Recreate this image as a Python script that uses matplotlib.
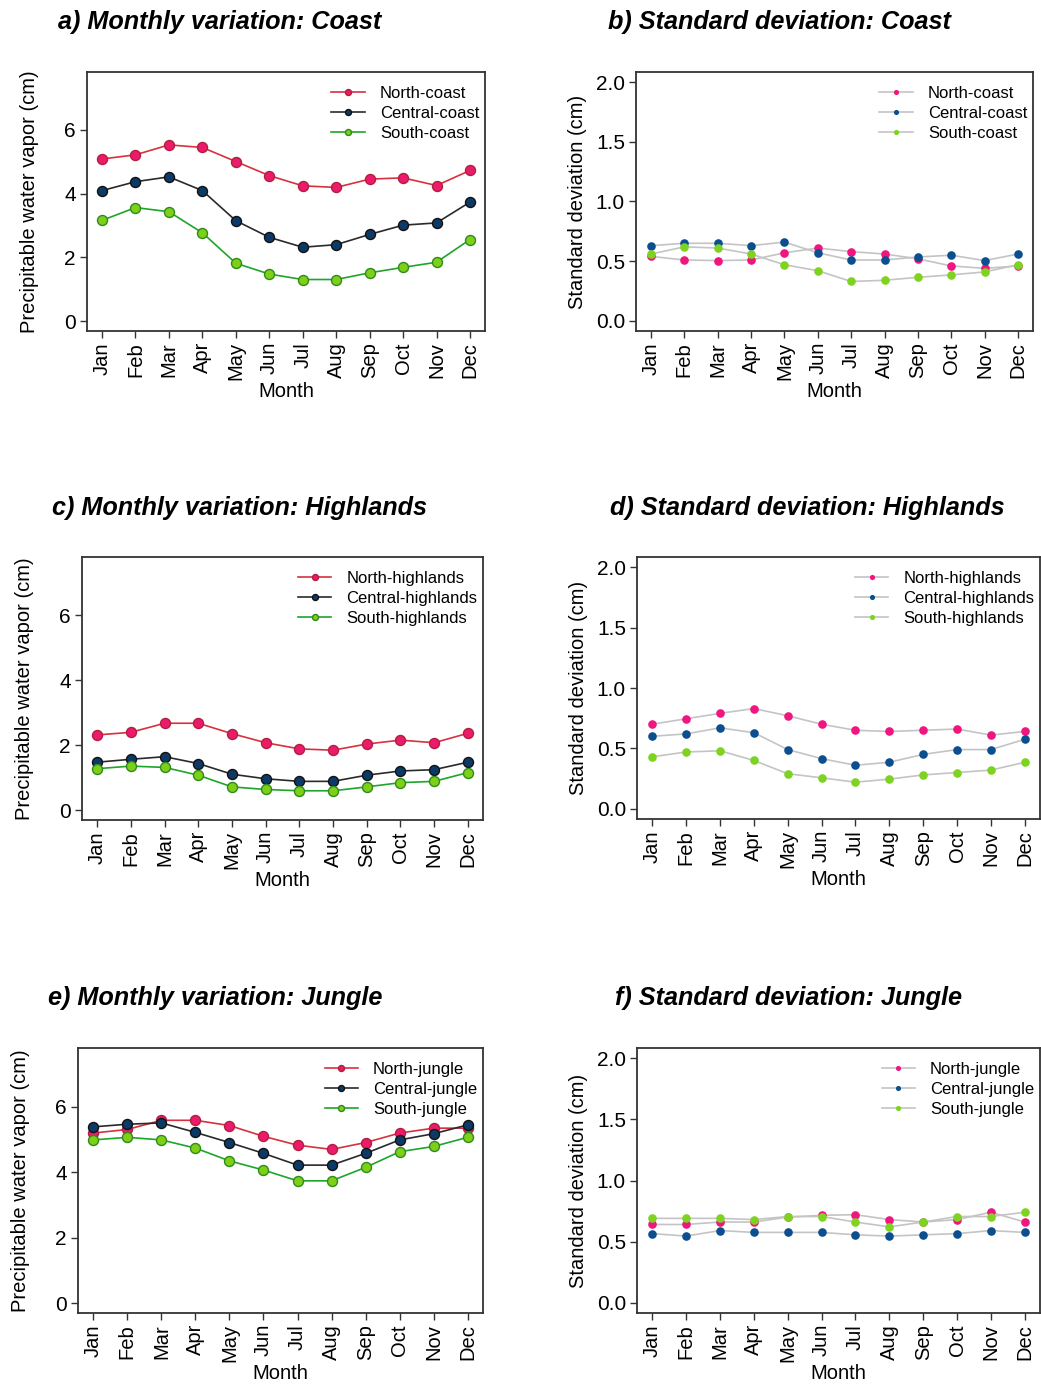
import numpy as np
import matplotlib
matplotlib.use("Agg")
import matplotlib.pyplot as plt

plt.rcParams['font.family'] = ['Liberation Sans', 'DejaVu Sans']

months = ['Jan', 'Feb', 'Mar', 'Apr', 'May', 'Jun', 'Jul', 'Aug', 'Sep', 'Oct', 'Nov', 'Dec']

# ---- monthly mean PWV (cm)
coast_north   = [5.08, 5.21, 5.52, 5.44, 5.00, 4.56, 4.24, 4.19, 4.45, 4.49, 4.25, 4.72]
coast_central = [4.09, 4.37, 4.52, 4.09, 3.15, 2.63, 2.32, 2.40, 2.72, 3.01, 3.08, 3.73]
coast_south   = [3.16, 3.56, 3.43, 2.77, 1.82, 1.48, 1.31, 1.31, 1.52, 1.69, 1.85, 2.56]

high_north   = [2.32, 2.40, 2.68, 2.68, 2.36, 2.08, 1.89, 1.85, 2.04, 2.16, 2.08, 2.37]
high_central = [1.48, 1.57, 1.65, 1.44, 1.11, 0.97, 0.89, 0.89, 1.08, 1.21, 1.25, 1.48]
high_south   = [1.28, 1.36, 1.32, 1.08, 0.72, 0.64, 0.60, 0.60, 0.72, 0.85, 0.89, 1.16]

jungle_north   = [5.20, 5.31, 5.59, 5.59, 5.43, 5.10, 4.83, 4.70, 4.91, 5.20, 5.35, 5.35]
jungle_central = [5.39, 5.47, 5.51, 5.22, 4.91, 4.58, 4.22, 4.22, 4.58, 4.99, 5.18, 5.45]
jungle_south   = [4.99, 5.07, 4.99, 4.74, 4.35, 4.07, 3.74, 3.74, 4.15, 4.63, 4.79, 5.07]

# ---- standard deviation (cm)
sd_coast_north   = [0.54, 0.51, 0.505, 0.51, 0.57, 0.61, 0.58, 0.56, 0.52, 0.46, 0.44, 0.46]
sd_coast_central = [0.63, 0.65, 0.65, 0.63, 0.66, 0.57, 0.51, 0.51, 0.535, 0.55, 0.505, 0.56]
sd_coast_south   = [0.56, 0.62, 0.61, 0.56, 0.47, 0.42, 0.33, 0.34, 0.365, 0.385, 0.41, 0.47]

sd_high_north   = [0.70, 0.745, 0.79, 0.83, 0.77, 0.70, 0.65, 0.64, 0.65, 0.66, 0.61, 0.64]
sd_high_central = [0.60, 0.62, 0.67, 0.63, 0.49, 0.415, 0.36, 0.385, 0.45, 0.49, 0.49, 0.575]
sd_high_south   = [0.43, 0.47, 0.48, 0.40, 0.29, 0.256, 0.22, 0.245, 0.28, 0.30, 0.32, 0.385]

sd_jungle_north   = [0.64, 0.64, 0.66, 0.66, 0.70, 0.715, 0.72, 0.68, 0.66, 0.68, 0.74, 0.66]
sd_jungle_central = [0.565, 0.545, 0.59, 0.575, 0.575, 0.575, 0.555, 0.545, 0.555, 0.565, 0.59, 0.575]
sd_jungle_south   = [0.69, 0.69, 0.69, 0.68, 0.705, 0.705, 0.66, 0.62, 0.66, 0.705, 0.705, 0.74]

W, H = 1041, 1387
fig = plt.figure(figsize=(W / 100, H / 100), dpi=100)
x = np.arange(1, 13)

# line colour, marker face, marker edge
mean_style = [('#D8303F', '#EC1A6C', '#B0203A'),
              ('#2A2A2A', '#0C3A66', '#111111'),
              ('#1EA52A', '#7ECF17', '#2E8A1E')]
sd_colors = ['#F0157F', '#0B4F8F', '#7ED321']


def px_axes(l, r, t, b):
    return fig.add_axes([l / W, 1 - b / H, (r - l) / W, (b - t) / H])


def style_axes(ax, ylabel, pad):
    ax.set_xlim(0.55, 12.45)
    ax.set_xticks(x)
    ax.set_xticklabels(months, rotation=90, fontsize=14.5)
    ax.set_xlabel('Month', fontsize=14.5, labelpad=1)
    ax.set_ylabel(ylabel, fontsize=14.5, labelpad=pad)
    ax.tick_params(axis='y', labelsize=15, length=5, width=1, color='#333333', pad=3)
    ax.tick_params(axis='x', length=5, width=1, color='#333333', pad=3)
    for s in ax.spines.values():
        s.set_linewidth(1.3)
        s.set_color('#333333')


def add_legend(ax):
    ax.legend(loc='upper right', bbox_to_anchor=(1.0, 0.97), frameon=False,
              fontsize=12, markerscale=0.6, handlelength=2.0, handletextpad=0.9,
              labelspacing=0.3, borderaxespad=0.0, borderpad=0.35)


def mean_panel(rect, series, names, ylabel):
    ax = px_axes(*rect)
    for vals, name, (lc, fc, ec) in zip(series, names, mean_style):
        ax.plot(x, vals, color=lc, lw=1.2, marker='o', ms=7.2,
                mfc=fc, mec=ec, mew=1.0, label=name)
    ax.set_ylim(-0.3, 7.8)
    ax.set_yticks([0, 2, 4, 6])
    style_axes(ax, ylabel, 18)
    add_legend(ax)
    return ax


def sd_panel(rect, series, names):
    ax = px_axes(*rect)
    for vals, name, c in zip(series, names, sd_colors):
        ax.plot(x, vals, color='#C4C4C4', lw=1.2, marker='o', ms=6.2,
                mfc=c, mec=c, mew=0, label=name)
    ax.set_ylim(-0.085, 2.085)
    ax.set_yticks([0, 0.5, 1.0, 1.5, 2.0])
    ax.set_yticklabels(['0.0', '0.5', '1.0', '1.5', '2.0'])
    style_axes(ax, 'Standard deviation (cm)', 6)
    add_legend(ax)
    return ax


pwv_label = 'Precipitable water vapor (cm)'

mean_panel((87, 485, 72, 331), [coast_north, coast_central, coast_south],
           ['North-coast', 'Central-coast', 'South-coast'], pwv_label)
sd_panel((636, 1033, 72, 331), [sd_coast_north, sd_coast_central, sd_coast_south],
         ['North-coast', 'Central-coast', 'South-coast'])

mean_panel((82, 483, 557, 820), [high_north, high_central, high_south],
           ['North-highlands', 'Central-highlands', 'South-highlands'], pwv_label)
sd_panel((637, 1040, 557, 819), [sd_high_north, sd_high_central, sd_high_south],
         ['North-highlands', 'Central-highlands', 'South-highlands'])

mean_panel((78, 483, 1048, 1313), [jungle_north, jungle_central, jungle_south],
           ['North-jungle', 'Central-jungle', 'South-jungle'], pwv_label)
sd_panel((637, 1040, 1048, 1313), [sd_jungle_north, sd_jungle_central, sd_jungle_south],
         ['North-jungle', 'Central-jungle', 'South-jungle'])

titles = [(58, 22, 'a) Monthly variation: Coast'),
          (608, 22, 'b) Standard deviation: Coast'),
          (52, 508, 'c) Monthly variation: Highlands'),
          (610, 508, 'd) Standard deviation: Highlands'),
          (48, 998, 'e) Monthly variation: Jungle'),
          (615, 998, 'f) Standard deviation: Jungle')]
for tx, ty, txt in titles:
    fig.text(tx / W, 1 - ty / H, txt, fontsize=18.2, fontweight='bold',
             fontstyle='italic', ha='left', va='center')

fig.savefig('out.png', dpi=100)
